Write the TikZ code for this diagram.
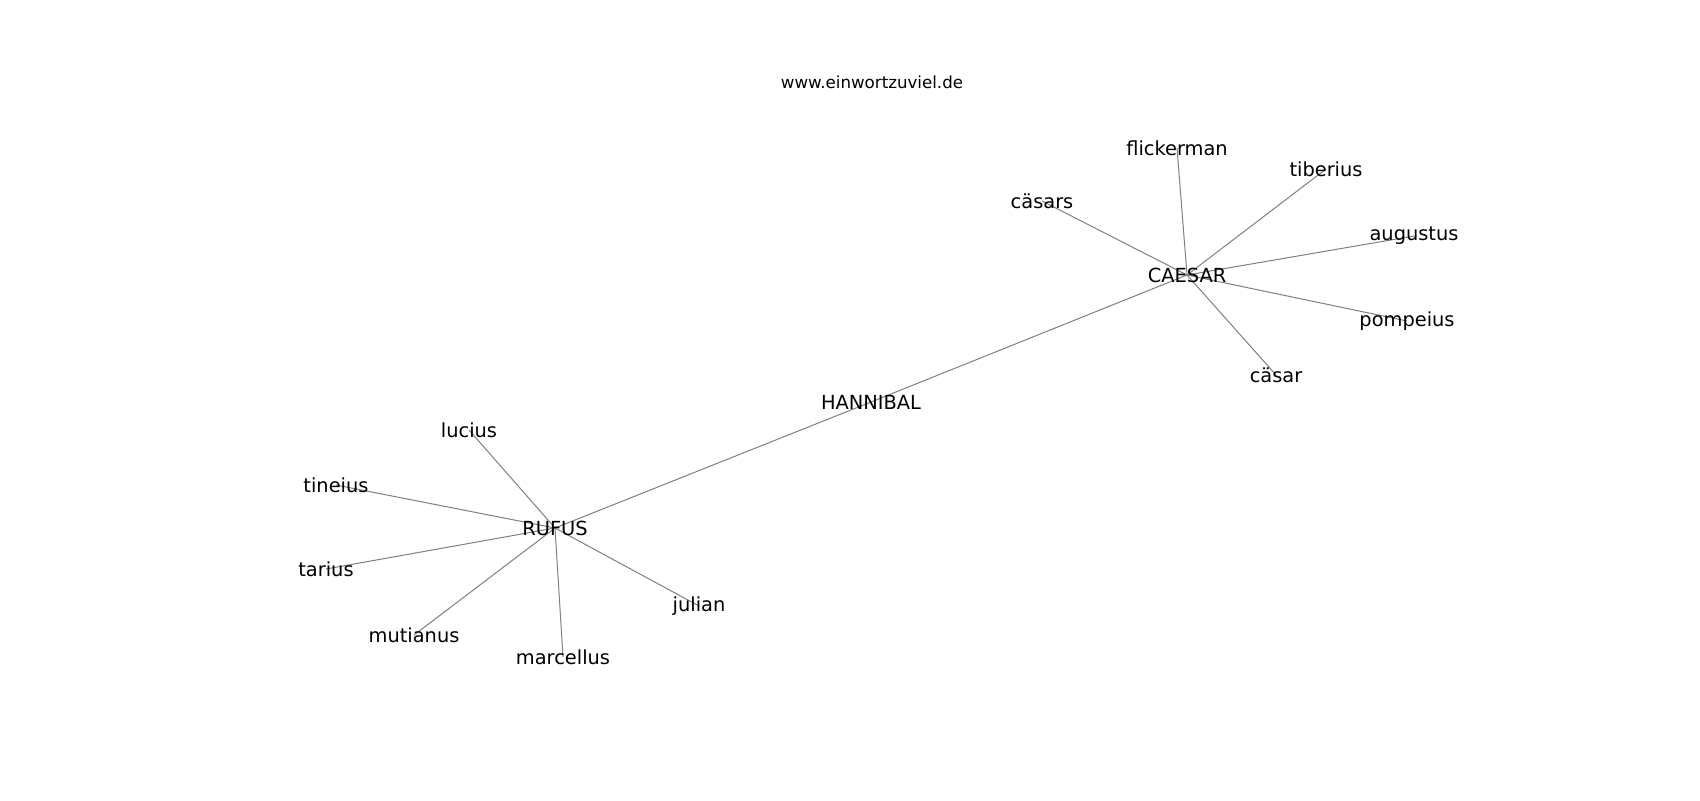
\documentclass[tikz,border=0pt]{standalone}
\usepackage{fontspec}
\setmainfont{DejaVu Sans}
\begin{document}
\begin{tikzpicture}[x=0.5pt,y=-0.5pt,
  lbl/.style={inner sep=0pt,font=\fontsize{9.7}{11.6}\selectfont,text=black},
  edge/.style={draw=gray,line width=0.5pt},
  ttl/.style={inner sep=0pt,font=\fontsize{8.33}{10}\selectfont,text=black}]
\useasboundingbox (0,0) rectangle (1700,800);
\fill[white] (0,0) rectangle (1700,800);
% node positions
\coordinate (cCAESAR) at (1187,275);
\coordinate (cHANNIBAL) at (871,402);
\coordinate (cRUFUS) at (555,528);
\coordinate (cflickerman) at (1177,148);
\coordinate (ctiberius) at (1326,169);
\coordinate (ccasars) at (1042,201);
\coordinate (caugustus) at (1414,236);
\coordinate (cpompeius) at (1407,321);
\coordinate (ccasar) at (1276,375);
\coordinate (clucius) at (469,430);
\coordinate (ctineius) at (336,485);
\coordinate (ctarius) at (326,569);
\coordinate (cmutianus) at (414,635);
\coordinate (cmarcellus) at (563,657);
\coordinate (cjulian) at (699,606);
% edges
\foreach \a/\b in {HANNIBAL/CAESAR,HANNIBAL/RUFUS,
  CAESAR/flickerman,CAESAR/tiberius,CAESAR/casars,CAESAR/augustus,CAESAR/pompeius,CAESAR/casar,
  RUFUS/lucius,RUFUS/tineius,RUFUS/tarius,RUFUS/mutianus,RUFUS/marcellus,RUFUS/julian}
  \draw[edge] (c\a) -- (c\b);
% labels
\node[lbl] (CAESAR) at (cCAESAR) {CAESAR};
\node[lbl] (HANNIBAL) at (cHANNIBAL) {HANNIBAL};
\node[lbl] (RUFUS) at (cRUFUS) {RUFUS};
\node[lbl] (flickerman) at (cflickerman) {flickerman};
\node[lbl] (tiberius) at (ctiberius) {tiberius};
\node[lbl] (casars) at (ccasars) {cäsars};
\node[lbl] (augustus) at (caugustus) {augustus};
\node[lbl] (pompeius) at (cpompeius) {pompeius};
\node[lbl] (casar) at (ccasar) {cäsar};
\node[lbl] (lucius) at (clucius) {lucius};
\node[lbl] (tineius) at (ctineius) {tineius};
\node[lbl] (tarius) at (ctarius) {tarius};
\node[lbl] (mutianus) at (cmutianus) {mutianus};
\node[lbl] (marcellus) at (cmarcellus) {marcellus};
\node[lbl] (julian) at (cjulian) {julian};
\node[ttl] (title) at (872,82) {www.einwortzuviel.de};
\end{tikzpicture}
\end{document}
